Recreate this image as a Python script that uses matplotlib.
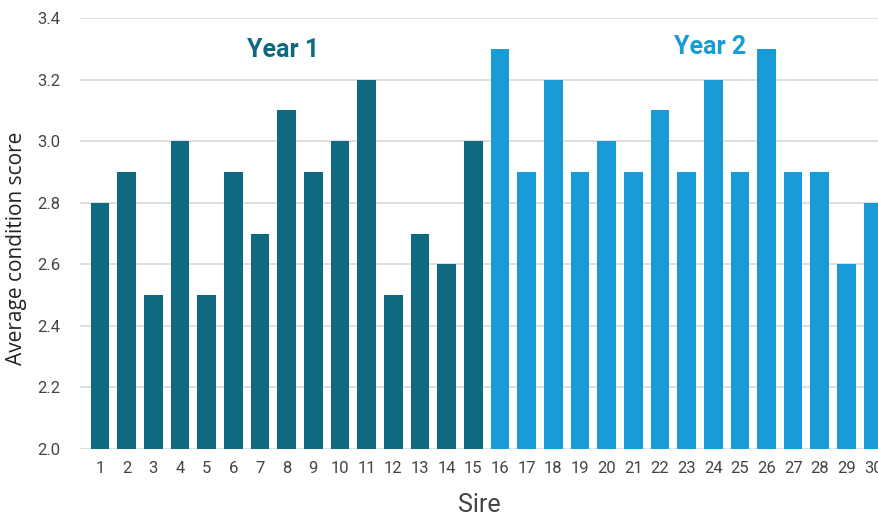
import matplotlib.pyplot as plt

# --- DANE ---
sires = list(range(1, 31))
year1_scores = [2.8, 2.9, 2.5, 3.0, 2.5, 2.9, 2.7, 3.1, 2.9, 3.0,
                3.2, 2.5, 2.7, 2.6, 3.0]
year2_scores = [3.3, 2.9, 3.2, 2.9, 3.0, 2.9, 3.1, 2.9, 3.2, 2.9,
                3.3, 2.9, 2.9, 2.6, 2.8]
y_ticks = [2.0, 2.2, 2.4, 2.6, 2.8, 3.0, 3.2, 3.4]

DARK = '#0f6a80'
LIGHT = '#189bd7'

plt.rcParams['font.family'] = ['Roboto', 'DejaVu Sans']

fig = plt.figure(figsize=(8.79, 5.19), dpi=100)
ax = fig.add_axes([0.091, 0.135, 0.909, 0.83])

scores = year1_scores + year2_scores
colors = [DARK] * len(year1_scores) + [LIGHT] * len(year2_scores)
ax.bar(sires, scores, width=0.7, color=colors, zorder=2)

# ostatni słupek (30) jest ucięty przy prawej krawędzi, jak w oryginale
ax.set_xlim(0.25, 30.22)
ax.set_ylim(2.0, 3.4)
ax.set_yticks(y_ticks)
ax.set_yticklabels([f'{v:.1f}' for v in y_ticks])
ax.set_xticks(sires)
ax.grid(axis='y', color='#d9d9d9', linewidth=1.2, zorder=0)
ax.tick_params(axis='both', length=0, labelsize=12, labelcolor='#444444')
ax.tick_params(axis='y', pad=14)
ax.tick_params(axis='x', pad=9)
for s in ax.spines.values():
    s.set_visible(False)

ax.set_ylabel('Average condition score', fontsize=15, family='Open Sans',
              color='#222222')
ax.yaxis.set_label_coords(-0.066, 0.466)
ax.set_xlabel('Sire', fontsize=18, color='#444444', labelpad=12)

ax.text(7.86, 3.296, 'Year 1', color=DARK, fontsize=18, fontweight='bold',
        ha='center', va='center')
ax.text(23.9, 3.305, 'Year 2', color=LIGHT, fontsize=18, fontweight='bold',
        ha='center', va='center')

fig.savefig('out.png', dpi=100)
